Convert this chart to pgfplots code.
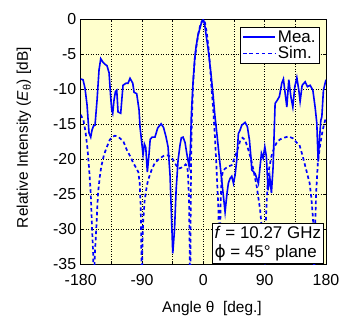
\documentclass[border=0pt]{standalone}
\usepackage{pgfplots}
\pgfplotsset{compat=1.18}
\usepackage{fontspec}
\setmainfont{Liberation Sans}
\newfontfamily\dejavu{DejaVu Sans}
\definecolor{bgy}{RGB}{255,255,204}
\begin{document}
\begin{tikzpicture}
\begin{axis}[
  scale only axis, width=245.3bp, height=245bp,
  xmin=-180, xmax=180, ymin=-35, ymax=0,
  xtick={-180,-135,...,180}, xticklabels={-180,,-90,,0,,90,,180},
  ytick={-35,-30,...,0}, yticklabels={-35,-30,-25,-20,-15,-10,-5,0},
  tick align=inside, major tick length=3bp,
  tick style={black, line width=0.5bp},
  axis line style={black, line width=0.8bp},
  axis background/.style={fill=bgy},
  grid=major,
  major grid style={black, dash pattern=on 1bp off 1.5bp, line width=0.5bp},
  tick label style={font=\fontsize{16}{18}\selectfont},
  xticklabel style={yshift=-6bp},
  yticklabel style={xshift=-1bp},
  /pgf/number format/assume math mode=true,
  xlabel={Angle θ\ \ [deg.]},
  ylabel={Relative Intensity (\textit{E}\textsubscript{θ}) [dB]},
  every axis x label/.style={at={(rel axis cs:0.535,-0.18)}, anchor=center, font=\fontsize{15.5}{18}\selectfont},
  every axis y label/.style={at={(rel axis cs:-0.232,0.518)}, rotate=90, anchor=center, font=\fontsize{15.5}{18}\selectfont},
  legend style={at={(rel axis cs:0.973,0.971)}, anchor=north east, draw=black, line width=0.6bp,
    fill=white, font=\fontsize{17}{19}\selectfont, inner sep=1.5bp, row sep=-1bp,
    /tikz/every even column/.append style={column sep=2bp}},
  legend cell align=left,
  legend image code/.code={\draw[#1] (0bp,0bp) -- (32bp,0bp);},
]
\addplot[blue, line width=1.6bp] coordinates {
(-180,-8.5) (-176.6,-8.6) (-173.7,-9.8) (-170.7,-12.2) (-167.8,-16.2) (-165.3,-16.8) (-163.4,-15.8) (-161.2,-15.2) (-159,-15.1) (-156,-11.5) (-153.1,-7.2) (-150.6,-5.6) (-147.3,-6.1) (-144.3,-6.4) (-141.4,-6.6) (-138.4,-7.6) (-136.2,-10.8) (-134.5,-12.9) (-133,-13.4) (-131.1,-11.5) (-129,-10.3) (-127.1,-10.1) (-125.2,-13.2) (-121.3,-13.4) (-117.9,-9.4) (-113.5,-9.1) (-110.5,-9.1) (-107.6,-8.4) (-103.6,-9.1) (-101.7,-10.4) (-97.8,-10.6) (-94.4,-12.9) (-92.9,-15.4) (-90.4,-17.6) (-88.5,-19.3) (-86.5,-17.8) (-84.5,-18.3) (-82.2,-21.8) (-79.7,-19.2) (-78,-17.1) (-75,-16.8) (-71,-16.8) (-67,-15.5) (-62,-14.9) (-58.5,-15.4) (-54.7,-16.8) (-51.8,-18.2) (-48.9,-22.2) (-44.9,-33.4) (-42.3,-30) (-40,-24.4) (-37.1,-20.1) (-34.2,-17.9) (-32.3,-16.9) (-29.8,-16.8) (-26.8,-17.6) (-23.9,-19.4) (-21,-20.9) (-19,-18.6) (-17.6,-13.6) (-15.1,-8.9) (-12.6,-5.5) (-10.7,-3.9) (-7.8,-2.2) (-2.9,-0.5) (0,0) (2.1,-0.8) (4,-2.2) (6.9,-4.1) (10.9,-7.5) (14.3,-10.8) (16.8,-13.6) (20.6,-17) (23.1,-19.4) (27,-23) (31.9,-27.5) (34.5,-25) (36.7,-23.4) (39.2,-22.7) (41.7,-22.4) (44.2,-23.4) (46.6,-22.2) (49.1,-20) (51.4,-16.3) (53.9,-15.8) (56.4,-15.1) (61.3,-14.7) (64.6,-15.3) (67.6,-17.2) (70.1,-20) (71.1,-21.5) (75.9,-22) (80.8,-23.4) (85.2,-19.1) (87.7,-19.8) (90.2,-18.2) (92.5,-19.6) (95,-24.4) (97.5,-22.5) (99.9,-24.8) (102.4,-21) (103.5,-17.5) (105.3,-12) (108.7,-11.5) (111.6,-11) (115.1,-9.1) (117.5,-8.5) (120,-10.5) (122.5,-12.5) (125.4,-8.6) (128.4,-11) (131.3,-12.5) (134.2,-9.6) (137.2,-8.3) (140.1,-10.1) (142,-11.7) (145,-9.4) (149.4,-8.9) (152.7,-9.6) (156.7,-9.4) (160.7,-10.1) (164,-12.5) (166.5,-14.8) (168.5,-20.3) (170.5,-17) (172.4,-14.4) (173.9,-13.9) (176.2,-10.1) (180,-8.6)
};
\addlegendentry{Mea.}
\addplot[blue, line width=1.7bp, dash pattern=on 3.5bp off 2.8bp] coordinates {
(-180,-13.6) (-176,-14.4) (-173,-16) (-170,-18.5) (-167.5,-21.5) (-165.3,-24.8) (-163.4,-29.6) (-161.5,-34) (-160.7,-45) (-159.5,-34) (-157,-29.6) (-154.6,-24.8) (-152,-22.5) (-149.8,-21) (-146,-19.4) (-142.4,-18.4) (-137.4,-17.2) (-134,-16.8) (-130,-16.6) (-126,-16.7) (-122,-17) (-117.4,-17.4) (-112.5,-18.6) (-107,-19.6) (-102.8,-20.5) (-98,-21.3) (-95.4,-21.8) (-93.4,-23.4) (-91.9,-26.7) (-91,-33) (-90.4,-45) (-89.6,-33) (-88.5,-29.1) (-86.1,-25.8) (-83,-23.8) (-81,-22.9) (-76,-21.5) (-71.3,-20.5) (-66,-20) (-61.7,-19.7) (-57,-19.4) (-53,-19.4) (-48,-19.6) (-44,-20.1) (-40,-20.8) (-37,-21.3) (-33,-21.2) (-29.3,-21) (-26,-20.7) (-23.5,-21) (-22.3,-22.5) (-21,-26) (-20,-33) (-19.4,-45) (-18.8,-30) (-18,-20) (-17,-14.5) (-15.1,-9.3) (-12.6,-5.7) (-10,-3.7) (-7.5,-2.1) (-5,-1) (-2.5,-0.3) (0,0) (2.5,-0.5) (5,-1.9) (7.5,-4) (10,-6.8) (12,-9.8) (14.5,-12.8) (17.3,-17.2) (19.7,-22) (22.1,-27.2) (23,-32) (23.6,-45) (24.4,-32) (25.5,-25.5) (27,-22.5) (29,-21.6) (32,-21.3) (36.7,-21) (41.7,-20.8) (46.6,-19.6) (51.4,-18.2) (54,-17.3) (57.5,-16.9) (61.3,-17.2) (66,-18.6) (70,-20) (73.5,-21.5) (78.4,-23.9) (83.3,-27.2) (86,-30) (88,-34) (89.3,-45) (90.5,-34) (92,-28) (94,-24) (96.5,-21.3) (100,-19.5) (104,-18.3) (108,-17.5) (113,-17.1) (118,-16.9) (125,-16.7) (132,-17) (137,-17.6) (141,-17.9) (146,-19.6) (151,-21.5) (156,-23.4) (158.5,-25.5) (161,-28.5) (162,-33) (162.6,-45) (163.3,-32) (165.5,-24.8) (168,-20.5) (171,-18.2) (174,-16.4) (177,-15) (180,-14)
};
\addlegendentry{Sim.}
\node[draw=black, line width=0.6bp, fill=white, anchor=south east, align=left, inner sep=2bp,
  font=\fontsize{17}{20}\selectfont] at (rel axis cs:0.989,0.003)
  {\textit{f} = 10.27 GHz\\{\dejavu ϕ} = 45° plane};
\coordinate (sw) at (rel axis cs:0,0);
\coordinate (ne) at (rel axis cs:1,1);
\end{axis}
\pgfresetboundingbox
\path ([shift={(-80.7bp,-55.5bp)}]sw) rectangle ([shift={(14bp,19.5bp)}]ne);
\end{tikzpicture}
\end{document}
